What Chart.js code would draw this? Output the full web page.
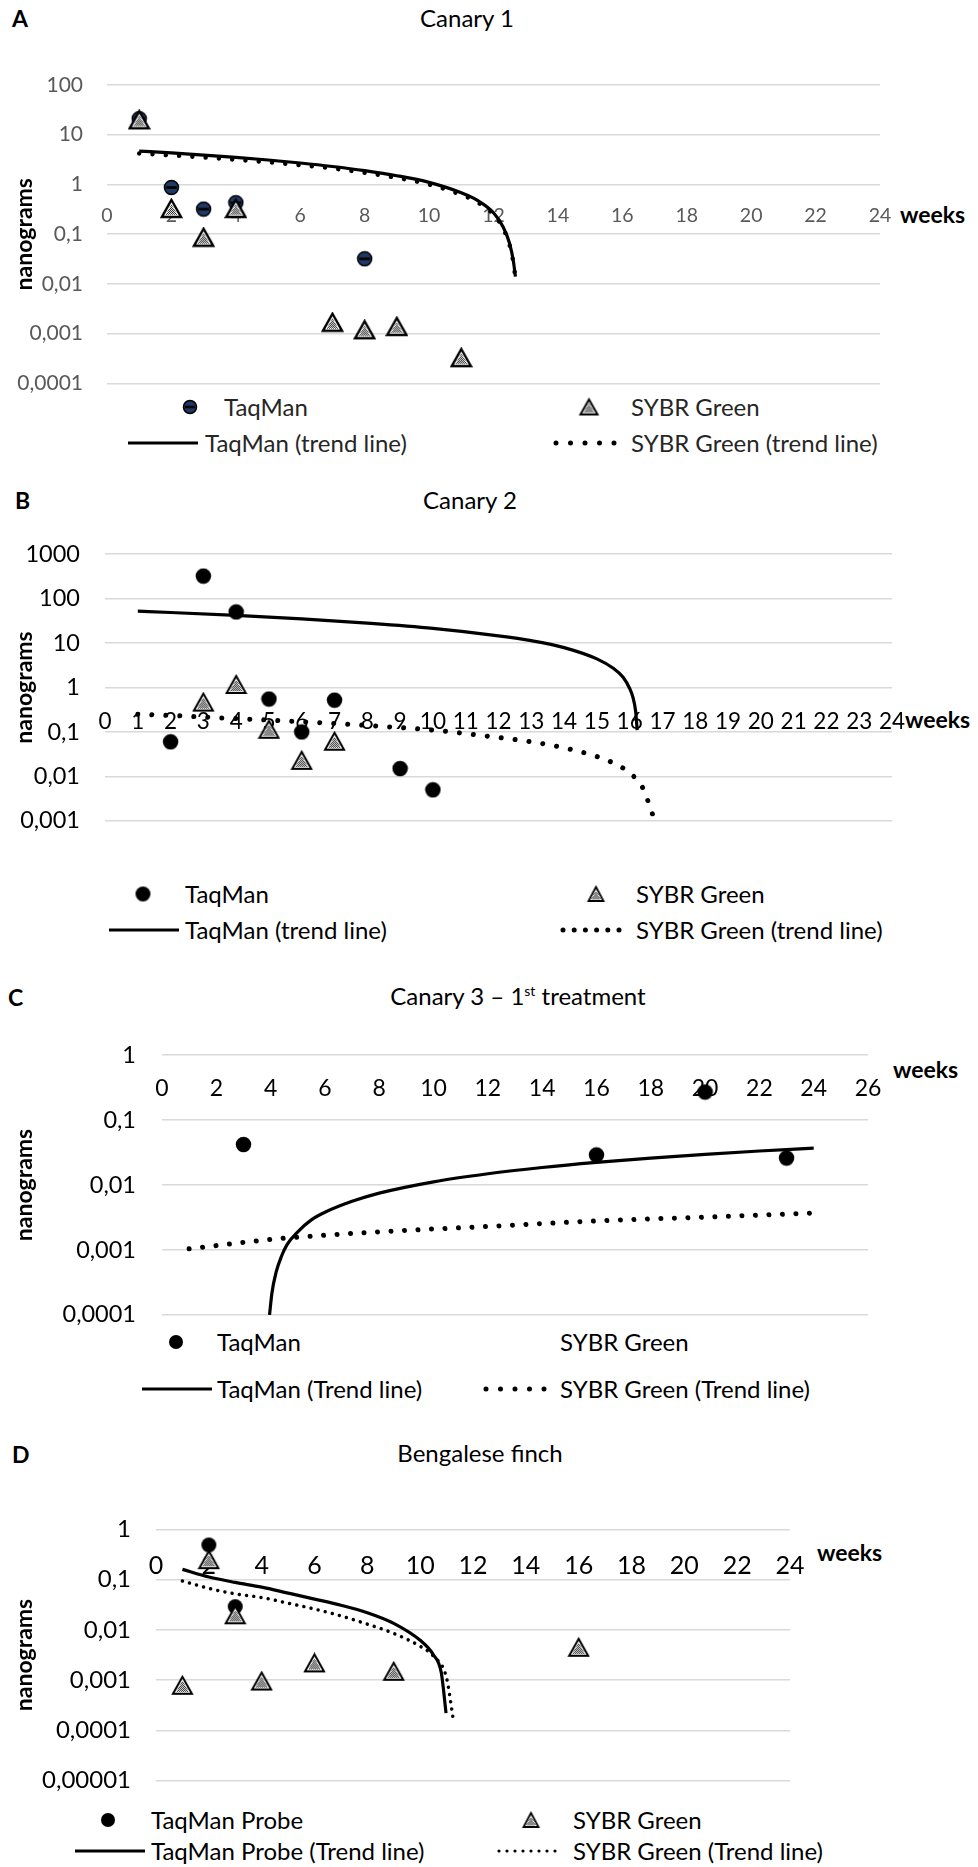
<!DOCTYPE html>
<html>
<head>
<meta charset="utf-8">
<script src="https://cdn.jsdelivr.net/npm/chart.js@4.4.0/dist/chart.umd.min.js"></script>
<style>
  body { margin: 0; background: #fff; width: 978px; height: 1867px; position: relative; overflow: hidden;
         font-family: Lato, "Noto Sans", sans-serif; color: #000; }
  canvas.panel { position: absolute; left: 0; }
  .t { position: absolute; white-space: nowrap; line-height: 1; transform: translateY(-50%); font-size: 24px; }
  .c { transform: translate(-50%, -50%); }
  .b { font-weight: bold; font-size: 23px; }
  .lg { color: #262626; }
  .mk { position: absolute; transform: translate(-50%, -50%); }
  svg.ln { position: absolute; transform: translateY(-50%); overflow: visible; }
  sup { font-size: 14px; vertical-align: 9px; }
</style>
</head>
<body>

<!-- A -->
<div class="t b" style="left:12px;top:18px">A</div>
<div class="t c" style="left:467px;top:18px">Canary 1</div>
<div class="t b" style="left:900px;top:214px">weeks</div>
<div class="mk" id="lgA1" style="left:190px;top:407px"></div>
<div class="t lg" style="left:224px;top:407px">TaqMan</div>
<div class="mk" id="lgA2" style="left:589px;top:407px"></div>
<div class="t lg" style="left:631px;top:407px">SYBR Green</div>
<svg class="ln" style="left:128px;top:443px" width="70" height="10"><line x1="0" y1="5" x2="70" y2="5" stroke="#000" stroke-width="3.2"/></svg>
<div class="t lg" style="left:205px;top:443px">TaqMan (trend line)</div>
<svg class="ln" style="left:553px;top:443px" width="62" height="10"><line x1="3" y1="5" x2="62" y2="5" stroke="#000" stroke-width="5" stroke-linecap="round" stroke-dasharray="0 14.5"/></svg>
<div class="t lg" style="left:631px;top:443px">SYBR Green (trend line)</div>

<!-- B -->
<div class="t b" style="left:15px;top:500px">B</div>
<div class="t c" style="left:470px;top:500px">Canary 2</div>
<div class="t b" style="left:905px;top:719px">weeks</div>
<div class="mk" id="lgB1" style="left:143px;top:894px"></div>
<div class="t" style="left:185px;top:894px">TaqMan</div>
<div class="mk" id="lgB2" style="left:596px;top:894px"></div>
<div class="t" style="left:636px;top:894px">SYBR Green</div>
<svg class="ln" style="left:109px;top:930px" width="70" height="10"><line x1="0" y1="5" x2="70" y2="5" stroke="#000" stroke-width="3.2"/></svg>
<div class="t" style="left:185px;top:930px">TaqMan (trend line)</div>
<svg class="ln" style="left:560px;top:930px" width="60" height="10"><line x1="3" y1="5" x2="60" y2="5" stroke="#000" stroke-width="5" stroke-linecap="round" stroke-dasharray="0 11.2"/></svg>
<div class="t" style="left:636px;top:930px">SYBR Green (trend line)</div>

<!-- C -->
<div class="t b" style="left:8px;top:997px">C</div>
<div class="t c" style="left:518px;top:996px">Canary 3 – 1<sup>st</sup> treatment</div>
<div class="t b" style="left:893px;top:1069px">weeks</div>
<div class="mk" id="lgC1" style="left:176px;top:1342px"></div>
<div class="t" style="left:217px;top:1342px">TaqMan</div>
<div class="t" style="left:560px;top:1342px">SYBR Green</div>
<svg class="ln" style="left:142px;top:1389px" width="70" height="10"><line x1="0" y1="5" x2="70" y2="5" stroke="#000" stroke-width="3.2"/></svg>
<div class="t" style="left:217px;top:1389px">TaqMan (Trend line)</div>
<svg class="ln" style="left:483px;top:1389px" width="62" height="10"><line x1="3" y1="5" x2="62" y2="5" stroke="#000" stroke-width="5" stroke-linecap="round" stroke-dasharray="0 14.5"/></svg>
<div class="t" style="left:560px;top:1389px">SYBR Green (Trend line)</div>

<!-- D -->
<div class="t b" style="left:12px;top:1454px">D</div>
<div class="t c" style="left:480px;top:1453px">Bengalese finch</div>
<div class="t b" style="left:817px;top:1552px">weeks</div>
<div class="mk" id="lgD1" style="left:108px;top:1820px"></div>
<div class="t" style="left:151px;top:1820px">TaqMan Probe</div>
<div class="mk" id="lgD2" style="left:531px;top:1820px"></div>
<div class="t" style="left:573px;top:1820px">SYBR Green</div>
<svg class="ln" style="left:75px;top:1851px" width="70" height="10"><line x1="0" y1="5" x2="70" y2="5" stroke="#000" stroke-width="3.2"/></svg>
<div class="t" style="left:151px;top:1851px">TaqMan Probe (Trend line)</div>
<svg class="ln" style="left:497px;top:1851px" width="66" height="10"><line x1="2" y1="5" x2="66" y2="5" stroke="#000" stroke-width="3.2" stroke-linecap="round" stroke-dasharray="0 8"/></svg>
<div class="t" style="left:573px;top:1851px">SYBR Green (Trend line)</div>

<canvas class="panel" id="chartA" width="978" height="380" style="top:40px"></canvas>
<canvas class="panel" id="chartB" width="978" height="345" style="top:515px"></canvas>
<canvas class="panel" id="chartC" width="978" height="340" style="top:1015px"></canvas>
<canvas class="panel" id="chartD" width="978" height="330" style="top:1490px"></canvas>

<script>
// ---- A: Canary 1 ----
const aTaqWeeks = [1, 2, 3, 4, 8];
const aTaqNg = [21, 0.87, 0.32, 0.43, 0.032];
const aSybrWeeks = [1, 2, 3, 4, 7, 8, 9, 11];
const aSybrNg = [20, 0.33, 0.087, 0.33, 0.0017, 0.0012, 0.0014, 0.00033];
const aTrendWeeks = [1, 2, 3, 4, 5, 6, 7, 8, 9, 10, 11, 11.5, 12, 12.3, 12.5, 12.62, 12.68];
const aTaqTrendNg = [4.7, 4.3, 3.9, 3.5, 3.1, 2.7, 2.3, 1.9, 1.5, 1.1, 0.68, 0.48, 0.27, 0.14, 0.065, 0.028, 0.014];
const aSybrTrendNg = [4.2, 3.85, 3.5, 3.15, 2.8, 2.45, 2.1, 1.72, 1.36, 1.0, 0.62, 0.44, 0.25, 0.13, 0.06, 0.026, 0.013];
const aYTicks = [0.0001, 0.001, 0.01, 0.1, 1, 10, 100];
const aYLabels = ["0,0001", "0,001", "0,01", "0,1", "1", "10", "100"];
const aXTicks = [0, 2, 4, 6, 8, 10, 12, 14, 16, 18, 20, 22, 24];

// ---- B: Canary 2 ----
const bTaqWeeks = [2, 3, 4, 5, 6, 7, 9, 10];
const bTaqNg = [0.06, 320, 50, 0.55, 0.1, 0.52, 0.015, 0.005];
const bSybrWeeks = [3, 4, 5, 6, 7];
const bSybrNg = [0.47, 1.17, 0.115, 0.023, 0.062];
const bTaqTrendWeeks = [1, 2, 4, 6, 8, 10, 12, 13, 14, 15, 15.5, 15.8, 16, 16.1, 16.18, 16.23];
const bTaqTrendNg = [52, 48.6, 41.8, 35, 28, 21.3, 14.5, 11.3, 7.9, 4.4, 2.7, 1.7, 0.95, 0.6, 0.3, 0.11];
const bSybrTrendWeeks = [1, 2, 4, 6, 8, 10, 12, 13, 14, 15, 15.5, 16, 16.4, 16.7];
const bSybrTrendNg = [0.25, 0.235, 0.2, 0.17, 0.14, 0.11, 0.075, 0.06, 0.044, 0.028, 0.02, 0.012, 0.0055, 0.0014];
const bYTicks = [0.001, 0.01, 0.1, 1, 10, 100, 1000];
const bYLabels = ["0,001", "0,01", "0,1", "1", "10", "100", "1000"];
const bXTicks = [0, 1, 2, 3, 4, 5, 6, 7, 8, 9, 10, 11, 12, 13, 14, 15, 16, 17, 18, 19, 20, 21, 22, 23, 24];

// ---- C: Canary 3 - 1st treatment ----
const cTaqWeeks = [3, 16, 20, 23];
const cTaqNg = [0.042, 0.029, 0.27, 0.026];
const cTaqTrendWeeks = [3.96, 4.05, 4.2, 4.4, 4.6, 5, 5.5, 6, 7, 8, 10, 12, 14, 16, 18, 20, 22, 24];
const cTaqTrendNg = [0.0001, 0.00022, 0.00045, 0.0008, 0.0012, 0.0019, 0.0029, 0.0038, 0.0056, 0.0075, 0.0112, 0.0149, 0.0186, 0.0223, 0.026, 0.0297, 0.0334, 0.037];
const cSybrTrendWeeks = [1, 4, 8, 12, 16, 20, 24];
const cSybrTrendNg = [0.00104, 0.00145, 0.0019, 0.0023, 0.0028, 0.0032, 0.0037];
const cYTicks = [0.0001, 0.001, 0.01, 0.1, 1];
const cYLabels = ["0,0001", "0,001", "0,01", "0,1", "1"];
const cXTicks = [0, 2, 4, 6, 8, 10, 12, 14, 16, 18, 20, 22, 24, 26];

// ---- D: Bengalese finch ----
const dTaqWeeks = [2, 3];
const dTaqNg = [0.49, 0.029];
const dSybrWeeks = [1, 2, 3, 4, 6, 9, 16];
const dSybrNg = [0.00079, 0.25, 0.02, 0.00096, 0.0022, 0.0015, 0.0045];
const dTaqTrendWeeks = [1, 2, 3, 4, 5, 6, 7, 8, 9, 10, 10.5, 10.8, 10.98];
const dTaqTrendNg = [0.16, 0.113, 0.088, 0.071, 0.054, 0.041, 0.031, 0.022, 0.0135, 0.0062, 0.0032, 0.0014, 0.00022];
const dSybrTrendWeeks = [1, 2, 3, 4, 5, 6, 7, 8, 9, 10, 10.5, 11, 11.25];
const dSybrTrendNg = [0.094, 0.067, 0.052, 0.044, 0.034, 0.026, 0.019, 0.013, 0.0085, 0.0047, 0.003, 0.0011, 0.00017];
const dYTicks = [0.00001, 0.0001, 0.001, 0.01, 0.1, 1];
const dYLabels = ["0,00001", "0,0001", "0,001", "0,01", "0,1", "1"];
const dXTicks = [0, 2, 4, 6, 8, 10, 12, 14, 16, 18, 20, 22, 24];

Chart.defaults.font.family = "Lato, 'Noto Sans', sans-serif";

// markers
function triMarker(w, h, lw) {
  const c = document.createElement("canvas");
  c.width = w + 4; c.height = h + 4;
  const g = c.getContext("2d");
  const pat = document.createElement("canvas");
  pat.width = 2; pat.height = 2;
  const pg = pat.getContext("2d");
  pg.fillStyle = "#fff"; pg.fillRect(0, 0, 2, 2);
  pg.fillStyle = "#111"; pg.fillRect(0, 0, 1, 1); pg.fillRect(1, 1, 1, 1);
  const top = [c.width / 2, 2], br = [c.width - 2, c.height - 2], bl = [2, c.height - 2];
  const tri = (k, ox, oy) => {
    g.beginPath();
    g.moveTo(ox + (top[0] - ox) * k, oy + (top[1] - oy) * k);
    g.lineTo(ox + (br[0] - ox) * k, oy + (br[1] - oy) * k);
    g.lineTo(ox + (bl[0] - ox) * k, oy + (bl[1] - oy) * k);
    g.closePath();
  };
  tri(1, 0, 0);
  g.fillStyle = "#fff"; g.fill();
  g.lineWidth = lw; g.strokeStyle = "#000"; g.lineJoin = "miter"; g.stroke();
  // checkered inner area
  const side = Math.hypot(w / 2, h);
  const r = (w * h) / (w + 2 * side);
  const ox = c.width / 2, oy = c.height - 2 - r;
  tri(Math.max(0.3, (r - lw * 0.9) / r), ox, oy);
  g.fillStyle = g.createPattern(pat, "repeat"); g.fill();
  return c;
}
function navyMarker(d) {
  const c = document.createElement("canvas");
  c.width = d + 2; c.height = d + 2;
  const g = c.getContext("2d");
  const r = d / 2, m = c.width / 2;
  g.beginPath(); g.arc(m, m, r - 0.5, 0, Math.PI * 2);
  g.fillStyle = "#1f3864"; g.fill();
  g.lineWidth = 1.5; g.strokeStyle = "#000"; g.stroke();
  g.fillStyle = "#000"; g.fillRect(m - r * 0.7, m - 1.3, r * 1.4, 2.6);
  return c;
}
function dotMarker(d) {
  const c = document.createElement("canvas");
  c.width = d + 2; c.height = d + 2;
  const g = c.getContext("2d");
  g.beginPath(); g.arc(c.width / 2, c.height / 2, d / 2, 0, Math.PI * 2);
  g.fillStyle = "#000"; g.fill();
  return c;
}

const pts = (xs, ys) => xs.map((x, i) => ({ x, y: ys[i] }));

function markerSet(xs, ys, img) {
  return { data: pts(xs, ys), pointStyle: img, pointRadius: 9, showLine: false, clip: false };
}
function trendSet(xs, ys, dotted, w, gap) {
  return {
    data: pts(xs, ys), showLine: true, pointRadius: 0, borderColor: "#000", fill: false,
    borderWidth: w, borderDash: dotted ? [0.01, gap] : [], borderCapStyle: dotted ? "round" : "butt",
    cubicInterpolationMode: "monotone"
  };
}

function panel(id, o) {
  return new Chart(document.getElementById(id), {
    type: "scatter",
    data: { datasets: o.datasets },
    options: {
      responsive: false,
      animation: false,
      events: [],
      layout: { padding: { top: o.pad[0], right: o.pad[1], bottom: o.pad[2], left: 0 } },
      plugins: { legend: { display: false }, tooltip: { enabled: false } },
      scales: {
        x: {
          type: "linear", min: o.xTicks[0], max: o.xTicks[o.xTicks.length - 1],
          position: { y: 1 },
          afterFit: s => { s.height = 0; },
          afterBuildTicks: s => { s.ticks = o.xTicks.map(v => ({ value: v })); },
          grid: { display: false, drawTicks: false },
          border: { display: false },
          ticks: { autoSkip: false, maxRotation: 0, padding: o.xPad, color: o.tickColor,
                   font: { size: o.xFont } }
        },
        y: {
          type: "logarithmic", min: o.yTicks[0], max: o.yTicks[o.yTicks.length - 1],
          afterFit: s => { s.width = o.left; },
          afterBuildTicks: s => { s.ticks = o.yTicks.map(v => ({ value: v })); },
          grid: { color: "#d9d9d9", lineWidth: 1.5, drawTicks: false },
          border: { display: false },
          ticks: {
            padding: o.yPad, color: o.tickColor, font: { size: o.yFont },
            callback: v => {
              const i = o.yTicks.findIndex(t => Math.abs(t - v) / t < 1e-6);
              return i < 0 ? "" : o.yLabels[i];
            }
          },
          title: { display: true, text: "nanograms", color: "#000",
                   font: { size: 23, weight: "bold", lineHeight: 1 }, padding: { top: 13 } }
        }
      }
    }
  });
}

panel("chartA", {
  pad: [45, 98, 31], left: 107, xPad: 20, yPad: 24, xFont: 19.5, yFont: 21, tickColor: "#595959",
  xTicks: aXTicks, yTicks: aYTicks, yLabels: aYLabels,
  datasets: [
    markerSet(aSybrWeeks, aSybrNg, triMarker(19, 17, 2.4)),
    markerSet(aTaqWeeks, aTaqNg, navyMarker(15)),
    trendSet(aTrendWeeks, aTaqTrendNg, false, 3.2),
    trendSet(aTrendWeeks, aSybrTrendNg, true, 4.5, 13.3)
  ]
});

panel("chartB", {
  pad: [23, 86, 26], left: 105, xPad: 20.5, yPad: 25, xFont: 22.5, yFont: 23.5, tickColor: "#000",
  xTicks: bXTicks, yTicks: bYTicks, yLabels: bYLabels,
  datasets: [
    markerSet(bSybrWeeks, bSybrNg, triMarker(19, 17, 2)),
    markerSet(bTaqWeeks, bTaqNg, dotMarker(15.5)),
    trendSet(bTaqTrendWeeks, bTaqTrendNg, false, 3.2),
    trendSet(bSybrTrendWeeks, bSybrTrendNg, true, 5, 14)
  ]
});

panel("chartC", {
  pad: [23.7, 110, 30], left: 162, xPad: 20, yPad: 26, xFont: 23, yFont: 23.5, tickColor: "#000",
  xTicks: cXTicks, yTicks: cYTicks, yLabels: cYLabels,
  datasets: [
    markerSet(cTaqWeeks, cTaqNg, dotMarker(15.5)),
    trendSet(cTaqTrendWeeks, cTaqTrendNg, false, 3.2),
    trendSet(cSybrTrendWeeks, cSybrTrendNg, true, 5, 13.5)
  ]
});

panel("chartD", {
  pad: [26.3, 188, 26.3], left: 156, xPad: 21.7, yPad: 25, xFont: 25, yFont: 24, tickColor: "#000",
  xTicks: dXTicks, yTicks: dYTicks, yLabels: dYLabels,
  datasets: [
    markerSet(dSybrWeeks, dSybrNg, triMarker(19, 17, 2)),
    markerSet(dTaqWeeks, dTaqNg, dotMarker(15)),
    trendSet(dTaqTrendWeeks, dTaqTrendNg, false, 3.2),
    trendSet(dSybrTrendWeeks, dSybrTrendNg, true, 3.5, 7.3)
  ]
});

// legend markers
document.getElementById("lgA1").appendChild(navyMarker(14));
document.getElementById("lgA2").appendChild(triMarker(17, 15, 2));
document.getElementById("lgB1").appendChild(dotMarker(15));
document.getElementById("lgB2").appendChild(triMarker(15, 14, 1.8));
document.getElementById("lgC1").appendChild(dotMarker(14));
document.getElementById("lgD1").appendChild(dotMarker(14));
document.getElementById("lgD2").appendChild(triMarker(15, 14, 1.8));
document.querySelectorAll(".mk canvas").forEach(c => (c.style.display = "block"));
</script>
</body>
</html>
